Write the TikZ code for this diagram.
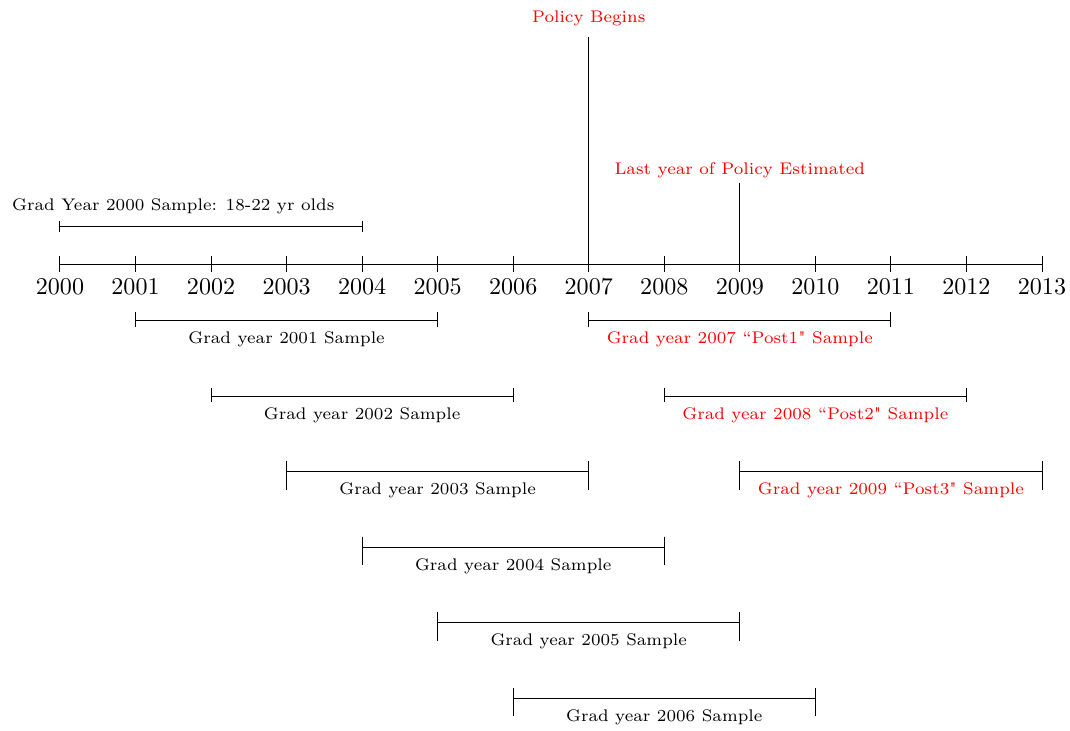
\documentclass[tikz,border=0pt]{standalone}
\usepackage{amsmath, amssymb}
\usetikzlibrary{positioning}

\tikzset{
  yearlbl/.style={font=\normalsize},
  samplelbl/.style={font=\scriptsize},
  policylbl/.style={font=\scriptsize, text=red},
}

\begin{document}
\begin{tikzpicture}[x=1.103cm, y=1.103cm]
\useasboundingbox (-0.794,-6.182) rectangle (13.371,3.495);

%Time axis and years
\foreach \i in {0,...,13}{
  \coordinate (t\i) at (\i,0);
  \pgfmathtruncatemacro{\yr}{2000+\i}
  \node[yearlbl] (yr\i) at (\i,-0.3) {\yr};
  \draw (\i,0.1) -- (\i,-0.1);
}
\draw (t0) -- (t13);

%Policy markers
\coordinate (pb) at (7,3.01);
\coordinate (pe) at (9,1.07);
\draw (t7) -- (pb) (t9) -- (pe);
\node[policylbl] (begins) at (7,3.257) {Policy Begins};
\node[policylbl] (lastyr) at (9,1.244) {Last year of Policy Estimated};

%Grad year 2000 (above the axis)
\coordinate (a0) at (0,0.5);
\coordinate (b0) at (4,0.5);
\draw (a0) -- (b0)
  (0,0.57) -- (0,0.43)
  (4,0.57) -- (4,0.43);
\node[samplelbl] (lbl0) at (1.5,0.77) {Grad Year 2000 Sample: 18-22 yr olds};

%Grad year samples below the axis
\foreach \s/\r/\c/\txt in {1/1/black/Grad year 2001 Sample,
                           2/2/black/Grad year 2002 Sample,
                           3/3/black/Grad year 2003 Sample,
                           4/4/black/Grad year 2004 Sample,
                           5/5/black/Grad year 2005 Sample,
                           6/6/black/Grad year 2006 Sample,
                           7/1/red/Grad year 2007 ``Post1\textquotedbl{} Sample,
                           8/2/red/Grad year 2008 ``Post2\textquotedbl{} Sample,
                           9/3/red/Grad year 2009 ``Post3\textquotedbl{} Sample}{
  \pgfmathsetmacro{\up}{\r<3 ? 0.11 : 0.14}
  \pgfmathsetmacro{\dn}{\r<3 ? 0.08 : 0.24}
  \coordinate (a\s) at (\s,-\r+0.25);
  \coordinate (b\s) at (\s+4,-\r+0.25);
  \draw (a\s) -- (b\s)
    (\s,-\r+0.25+\up) -- (\s,-\r+0.25-\dn)
    (\s+4,-\r+0.25+\up) -- (\s+4,-\r+0.25-\dn);
  \node[samplelbl, text=\c] (lbl\s) at (\s+2,-\r) {\txt};
}
\end{tikzpicture}
\end{document}
